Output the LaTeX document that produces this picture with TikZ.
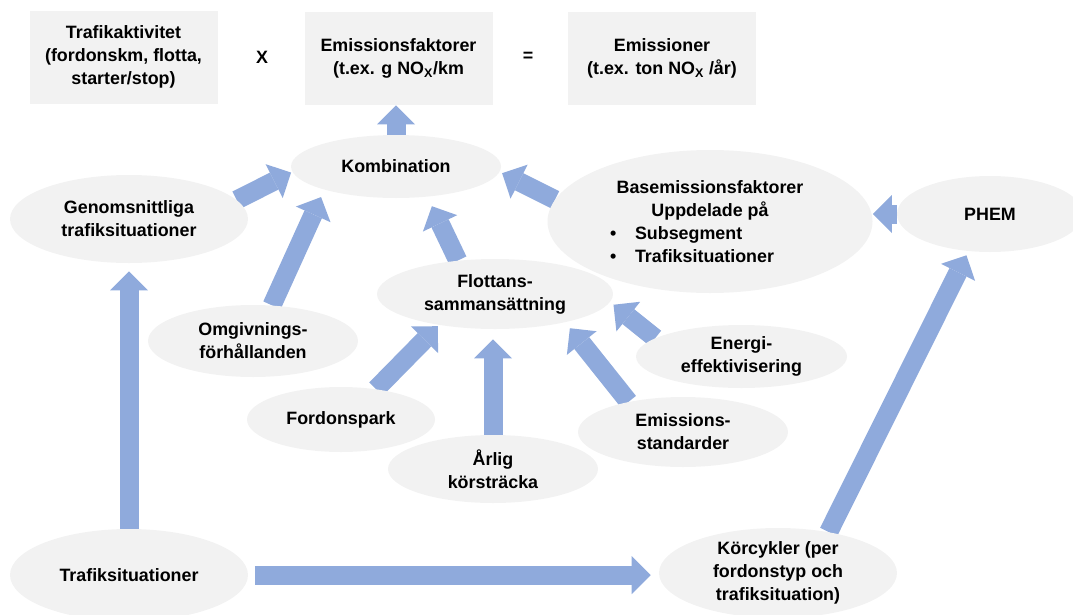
\documentclass[tikz,border=0pt]{standalone}
\usepackage{fontspec}
\setmainfont{Liberation Sans}
\usepackage{xcolor}
\usetikzlibrary{arrows.meta, shapes.geometric}
\definecolor{flowblue}{HTML}{8FAADC}
\definecolor{cellgray}{HTML}{F2F2F2}
\pgfdeclarelayer{bg}
\pgfsetlayers{bg,main}
\newcommand{\bulletitem}[1]{\makebox[150pt][l]{\makebox[18.75pt][l]{•}#1}}

\begin{document}
\begin{tikzpicture}[
  x=0.75pt, y=-0.75pt,
  font=\fontsize{13.4}{17.3}\selectfont\bfseries,
  cell/.style={fill=cellgray, align=center, inner sep=0pt, minimum width=141pt, minimum height=69.75pt},
  oval/.style 2 args={ellipse, fill=cellgray, align=center, inner sep=0pt, minimum width=#1, minimum height=#2},
  flow/.style={draw=flowblue, line width=14.25pt, -{Triangle[width=28.5pt, length=14.25pt, line width=0pt]}}
]
\useasboundingbox (0,0) rectangle (1073,614);
\node[cell] (trafakt) at (123.5,57) {Trafikaktivitet\\(fordonskm, flotta,\\starter/stop)};
\node (times) at (262,57) {X};
\node[cell] (emfak) at (398.5,58.5) {Emissionsfaktorer\\(t.ex. g NO\textsubscript{X}/km};
\node (equals) at (528,57) {=};
\node[cell] (emiss) at (662,58) {Emissioner\\(t.ex. ton NO\textsubscript{X} /år)};
\node[oval={157.5pt}{47.25pt}] (komb) at (396,166.5) {Kombination};
\node[oval={178.5pt}{66pt}] (genom) at (129,219) {Genomsnittliga\\trafiksituationer};
\node[oval={243.75pt}{107.25pt}] (base) at (710,221.5) {Basemissionsfaktorer\\Uppdelade på\\\bulletitem{Subsegment}\\\bulletitem{Trafiksituationer}};
\node[oval={139.5pt}{57pt}] (phem) at (990,214) {PHEM};
\node[oval={177pt}{52.5pt}] (flott) at (495,294) {Flottans-\\sammansättning};
\node[oval={157.5pt}{54pt}] (omg) at (253,341) {Omgivnings-\\förhållanden};
\node[oval={141pt}{48.75pt}] (ford) at (341,419.5) {Fordonspark};
\node[oval={157.5pt}{51pt}] (arlig) at (493,469) {Årlig\\körsträcka};
\node[oval={158.25pt}{47.25pt}] (energi) at (741.5,356.5) {Energi-\\effektivisering};
\node[oval={157.5pt}{52.5pt}] (emstd) at (683,432) {Emissions-\\standarder};
\node[oval={178.5pt}{69pt}] (trafsit) at (129,575) {Trafiksituationer};
\node[oval={178.5pt}{67.5pt}] (korc) at (778,573) {Körcykler (per\\fordonstyp och\\trafiksituation)};
\begin{pgfonlayer}{bg}
\draw[flow] (komb.north) -- (komb.north |- emfak.south);
\draw[flow, shorten >=6pt] (trafsit.north) -- (genom.south);
\draw[flow, shorten <=5pt, shorten >=6pt] (trafsit.east) -- (trafsit.east -| korc.west);
\draw[flow, shorten >=3.4pt] (korc.39) -- (phem.240);
\draw[flow] (phem.west) -- (phem.west -| base.east);
\draw[flow, shorten >=2pt] (base.172) -- (komb.357);
\draw[flow, shorten >=1pt] (genom.10) -- (komb.183);
\draw[flow, shorten >=6pt] (omg.62) -- (komb.198);
\draw[flow, shorten >=7.8pt] (flott.138) -- (komb.316);
\draw[flow, shorten >=1.2pt] (ford.41) -- (flott.209);
\draw[flow, shorten >=7.5pt] (arlig.north) -- (arlig.north |- flott.south);
\draw[flow, shorten >=5.6pt] (emstd.151) -- (flott.338);
\draw[flow, shorten >=3.2pt] (energi.168) -- (flott.356);
\end{pgfonlayer}
\end{tikzpicture}
\end{document}
